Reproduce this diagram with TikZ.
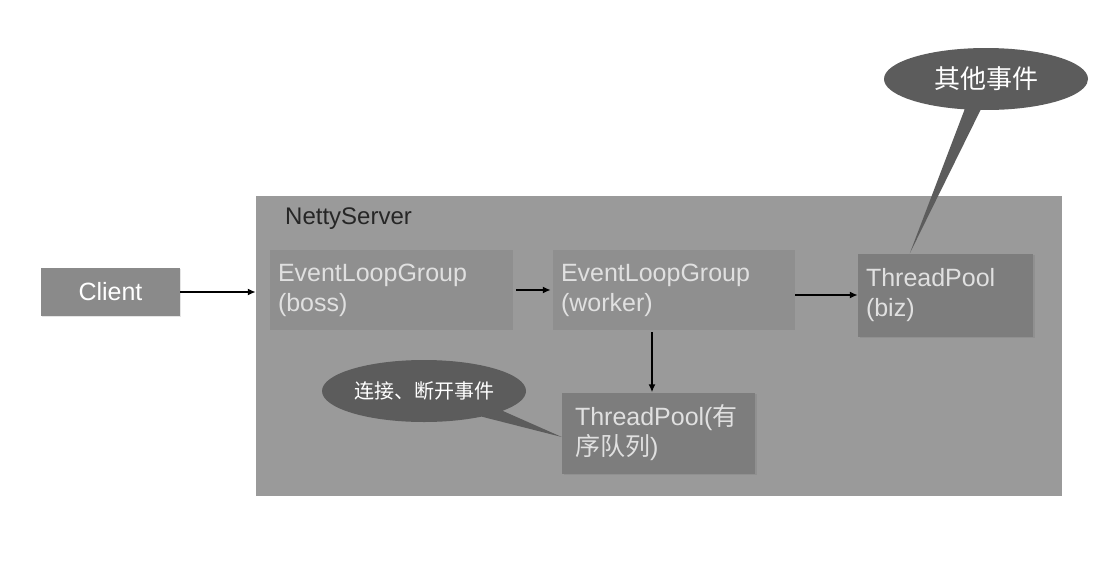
\documentclass[tikz,border=0pt]{standalone}
\usepackage{fontspec}
\setmainfont{Liberation Sans}
\newfontfamily\cjk{Noto Sans CJK SC}
\usetikzlibrary{arrows.meta,shapes.callouts,shadows,calc}
\definecolor{outerfill}{HTML}{9A9A9A}
\definecolor{elgfill}{HTML}{8F8F8F}
\definecolor{tpfill}{HTML}{7D7D7D}
\definecolor{clientfill}{HTML}{8A8A8A}
\definecolor{bubble}{HTML}{5C5C5C}
\definecolor{lighttext}{HTML}{E0E0E0}
\tikzset{
  box/.style={rectangle, draw=none, inner sep=0pt},
  elg/.style={box, fill=elgfill, minimum height=80pt, text=lighttext, align=left,
    inner xsep=8pt, font=\fontsize{25}{30}\selectfont},
  tp/.style={box, fill=tpfill, text=lighttext, align=left,
    font=\fontsize{25}{30}\selectfont,
    drop shadow={shadow xshift=1.5pt, shadow yshift=-1.5pt, opacity=0.35}},
  bub/.style={ellipse callout, fill=bubble, inner sep=0pt, text=white,
    minimum width=204pt, minimum height=62pt},
  arr/.style={-{Latex[length=8pt,width=7pt]}, line width=1.6pt, black},
}
\begin{document}
\begin{tikzpicture}[x=1pt,y=-1pt]
\useasboundingbox (0,0) rectangle (1110,565);
\fill[white] (0,0) rectangle (1110,565);

\node[box, fill=outerfill, minimum width=806pt, minimum height=300pt] (server) at (659,346) {};
\node[anchor=west, inner sep=0pt, text=black!85, font=\fontsize{24}{29}\selectfont] (title) at (285,219) {NettyServer};

\node[box, fill=clientfill, minimum width=139pt, minimum height=48pt, text=white,
  font=\fontsize{25}{30}\selectfont,
  drop shadow={shadow xshift=1pt, shadow yshift=-1pt, opacity=0.2}] (client) at (110.5,292) {Client};

\node[elg, minimum width=243pt, text width=227pt] (boss) at (391.5,290) {EventLoopGroup\\(boss)};
\node[elg, minimum width=242pt, text width=226pt] (worker) at (674,290) {EventLoopGroup\\(worker)};

\node[tp, minimum width=175pt, minimum height=83pt, inner xsep=8pt, text width=159pt] (biz) at (945.5,295) {ThreadPool\\(biz)};
\node[tp, minimum width=193pt, minimum height=81pt, inner xsep=13pt, text width=167pt] (ordered) at (658.5,433) {ThreadPool({\cjk 有}\\{\cjk 序队列})};

\node[bub, callout absolute pointer={($(biz.north west)+(52,0)$)}, callout pointer arc=9,
  font=\cjk\fontsize{26}{30}\selectfont] (other) at (986,79) {其他事件};
\node[bub, callout absolute pointer={($(ordered.west)+(0,4)$)}, callout pointer arc=16,
  font=\cjk\fontsize{20}{24}\selectfont] (conn) at (424,391) {连接、断开事件};

\draw[arr] (client.east) -- (client.east -| server.west);
\draw[arr, shorten <=3pt, shorten >=2pt] (boss.east) -- (worker.west);
\draw[arr] (biz.west -| worker.east) -- (biz.west);
\draw[arr] ($(worker.south)+(-22,2)$) coordinate (wdown) -- (wdown |- ordered.north);
\end{tikzpicture}
\end{document}
